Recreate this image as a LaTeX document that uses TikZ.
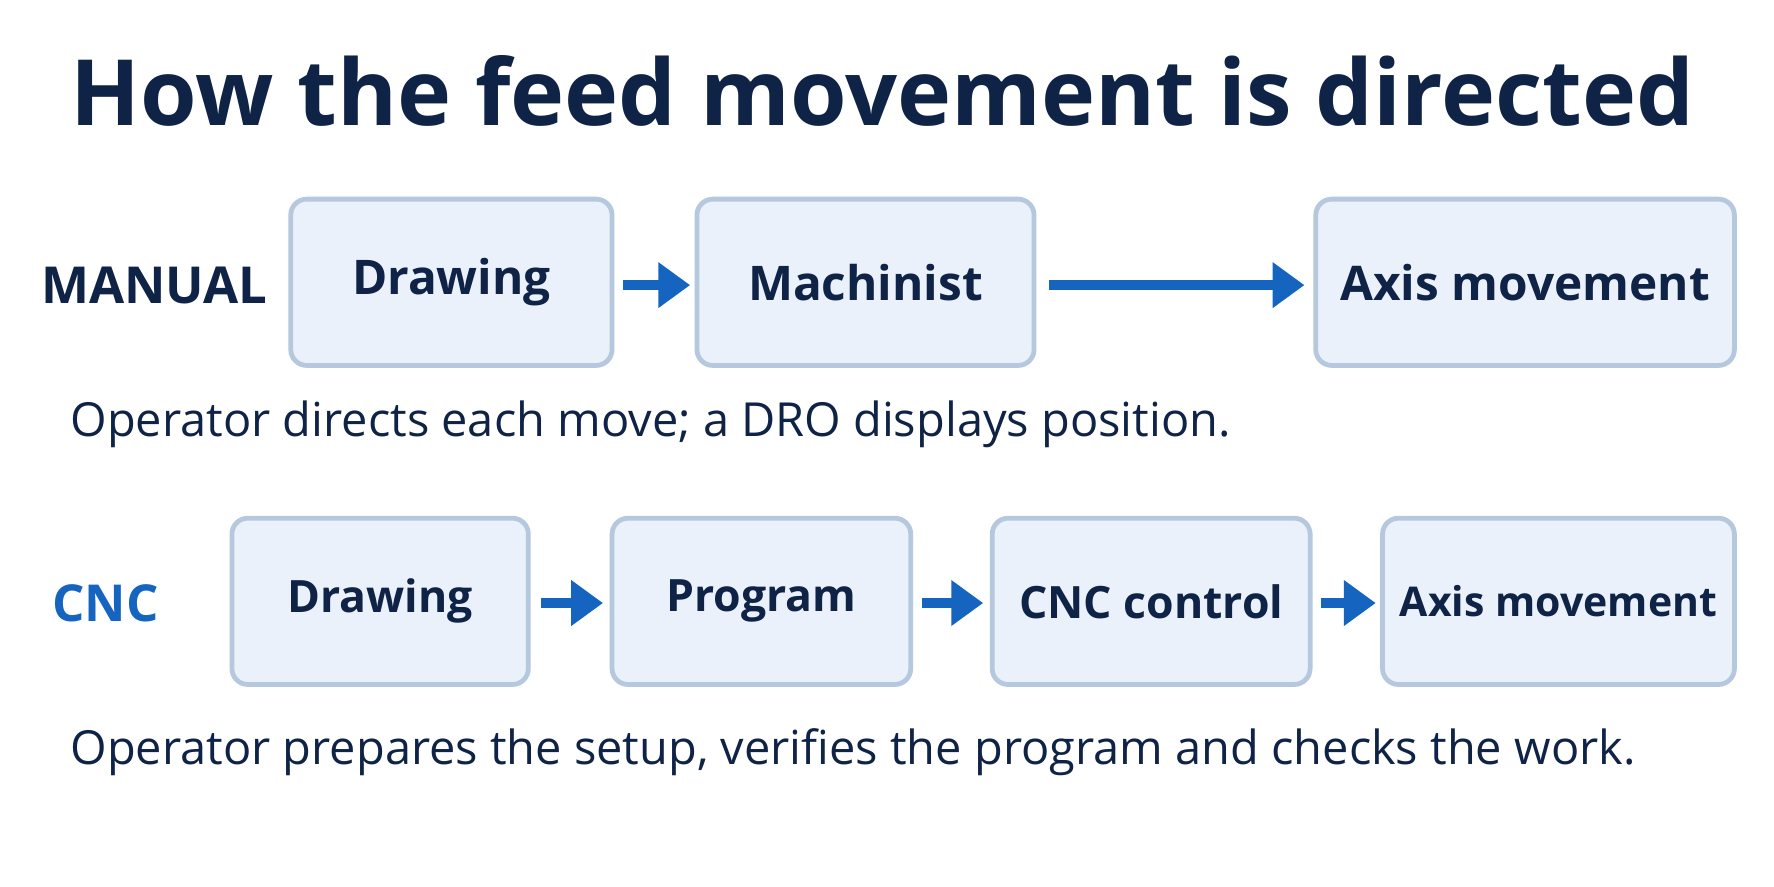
\documentclass[tikz,border=0pt]{standalone}
\usepackage{fontspec}
\setmainfont{Open Sans}
\usetikzlibrary{arrows.meta}
\definecolor{navy}{HTML}{0F2347}
\definecolor{flowblue}{HTML}{1565C0}
\definecolor{boxfill}{HTML}{EAF1FB}
\definecolor{boxline}{HTML}{B5C8DE}
\tikzset{
  stage/.style={draw=boxline, line width=1.2pt, fill=boxfill, rounded corners=4pt,
    text=navy, font=\fontsize{12}{14}\selectfont\bfseries},
  small/.style={font=\fontsize{11.2}{13}\selectfont\bfseries},
  flow/.style={-{Triangle[length=8pt,width=11pt]}, line width=2.6pt, draw=flowblue},
  note/.style={anchor=west, text=navy, font=\fontsize{11.8}{14}\selectfont},
  row/.style={anchor=west, font=\fontsize{12.8}{15}\selectfont\bfseries}
}
\begin{document}
\begin{tikzpicture}[x=0.01cm, y=-0.01cm]
    \useasboundingbox[fill=white] (0,0) rectangle (1568,784);
    \node[text=navy, font=\fontsize{23}{27}\selectfont\bfseries] (title) at (780,80) {How the feed movement is directed};
    % manual row
    \node[row, text=navy] (manual) at (24,252) {MANUAL};
    \draw[stage] (257,176) rectangle (541,323) node[pos=0.5] (mdraw) {Drawing};
    \draw[stage] (616,176) rectangle (914,323) node[pos=0.5] (mach) {Machinist};
    \draw[stage] (1163,176) rectangle (1533,323) node[pos=0.5] (maxis) {Axis movement};
    \coordinate (m1) at (551,252); \coordinate (m2) at (610,252);
    \coordinate (m3) at (927,252); \coordinate (m4) at (1153,252);
    \draw[flow] (m1) -- (m2);
    \draw[flow] (m3) -- (m4);
    \node[note] (mnote) at (50,375) {Operator directs each move; a DRO displays position.};
    % cnc row
    \node[row, text=flowblue] (cnc) at (34,533) {CNC};
    \draw[stage, small] (205,458) rectangle (467,605) node[pos=0.5] (cdraw) {Drawing};
    \draw[stage, small] (541,458) rectangle (805,605) node[pos=0.5] (prog) {Program};
    \draw[stage, small] (877,458) rectangle (1158,605) node[pos=0.5] (ctrl) {CNC control};
    \draw[stage, font=\fontsize{10.3}{12}\selectfont\bfseries] (1222,458) rectangle (1533,605) node[pos=0.5] (caxis) {Axis movement};
    \coordinate (c1) at (478,533); \coordinate (c2) at (533,533);
    \coordinate (c3) at (815,533); \coordinate (c4) at (869,533);
    \coordinate (c5) at (1168,533); \coordinate (c6) at (1216,533);
    \draw[flow] (c1) -- (c2);
    \draw[flow] (c3) -- (c4);
    \draw[flow] (c5) -- (c6);
    \node[note] (cnote) at (50,665) {Operator prepares the setup, verifies the program and checks the work.};
\end{tikzpicture}
\end{document}
